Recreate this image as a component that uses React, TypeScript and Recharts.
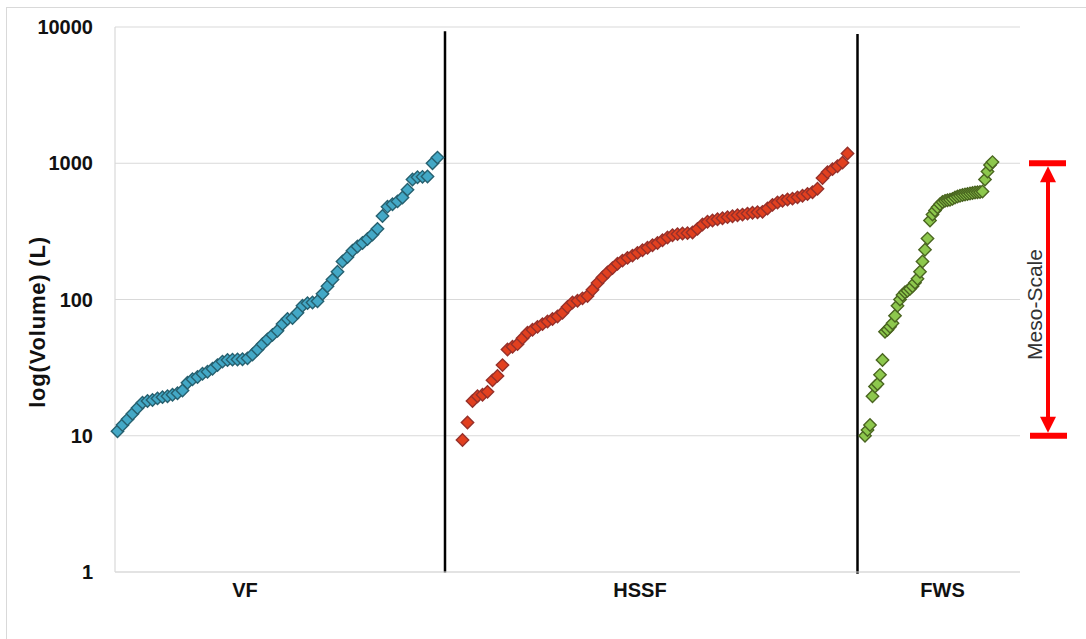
import {
  ScatterChart,
  Scatter,
  XAxis,
  YAxis,
  CartesianGrid,
  ReferenceLine,
} from "recharts";

const groups = ["VF", "HSSF", "FWS"];
const groupLabelRanks = [52, 210, 331];
const groupDividerRanks = [132, 297];
const volumeTicks = [1, 10, 100, 1000, 10000];
const mesoScale = [10, 1000];

const vfVolumes = [
  10.8, 12, 13.2, 14.5, 16, 17.5, 18, 18.3, 18.8, 19.2, 19.5, 20, 20.5, 21.5,
  24.5, 26, 27, 28.5, 29.5, 31, 33, 35, 36, 36.2, 36.3, 36.4, 37, 39.5, 43, 47,
  51, 55, 59, 66, 72, 73, 80, 90, 94, 95, 97, 110, 125, 140, 160, 190, 205, 228,
  245, 260, 278, 300, 330, 410, 480, 500, 525, 560, 640, 760, 790, 795, 800,
  1000, 1100,
];

const hssfVolumes = [
  9.3, 12.5, 18, 19.5, 20, 21, 25.5, 27.5, 33, 43, 45, 47, 52, 57, 60, 63, 66,
  69, 72, 75, 80, 88, 95, 98, 102, 106, 118, 132, 145, 158, 170, 183, 193, 202,
  210, 220, 230, 240, 250, 260, 272, 285, 296, 302, 305, 307, 310, 330, 355,
  372, 380, 388, 395, 402, 408, 415, 420, 427, 433, 437, 440, 465, 495, 515,
  530, 542, 550, 562, 578, 595, 612, 650, 780, 860, 905, 950, 1010, 1180,
];

const fwsVolumes = [
  10, 11, 12, 19.5, 23, 24, 28, 36, 58, 60, 63, 67, 76, 90, 100, 108, 113, 116,
  120, 125, 133, 142, 160, 190, 232, 280, 380, 420, 450, 475, 500, 520, 530,
  535, 540, 548, 560, 570, 578, 585, 590, 595, 600, 605, 610, 612, 615, 620,
  760, 870, 970, 1020,
];

// samples are plotted in rank order along the x axis
const toPoints = (volumes: number[], start: number, step: number) =>
  volumes.map((volume, i) => ({ rank: start + i * step, volume }));

const vfData = toPoints(vfVolumes, 1, 2);
const hssfData = toPoints(hssfVolumes, 139, 2);
const fwsData = toPoints(fwsVolumes, 300, 1);

const FONT = "'Liberation Sans', Arial, sans-serif";

function diamond(fill: string, stroke: string) {
  return (props: any) => {
    const { cx, cy } = props;
    const r = 6.2;
    return (
      <path
        d={`M${cx},${cy - r}L${cx + r},${cy}L${cx},${cy + r}L${cx - r},${cy}Z`}
        fill={fill}
        stroke={stroke}
        strokeWidth={1.4}
      />
    );
  };
}

function MesoArrow(props: any) {
  const { x1, y1, y2 } = props;
  const top = Math.min(y1, y2);
  const bottom = Math.max(y1, y2);
  const x = x1;
  const red = "#ff0000";
  return (
    <g>
      <line x1={x - 19} x2={x + 18} y1={top} y2={top} stroke={red} strokeWidth={6} />
      <line x1={x - 18} x2={x + 19} y1={bottom} y2={bottom} stroke={red} strokeWidth={6} />
      <line x1={x} x2={x} y1={top + 16} y2={bottom - 16} stroke={red} strokeWidth={4} />
      <path d={`M${x},${top + 3}L${x + 8},${top + 19}L${x - 8},${top + 19}Z`} fill={red} />
      <path d={`M${x},${bottom - 3}L${x + 8},${bottom - 19}L${x - 8},${bottom - 19}Z`} fill={red} />
      <text
        x={x - 14}
        y={(top + bottom) / 2 + 5}
        transform={`rotate(-90 ${x - 14} ${(top + bottom) / 2 + 5})`}
        textAnchor="middle"
        dominantBaseline="central"
        fontSize={21}
        fill="#333"
        fontFamily={FONT}
      >
        Meso-Scale
      </text>
    </g>
  );
}

export default function App() {
  return (
    <div
      style={{
        position: "absolute",
        left: 0,
        top: 0,
        width: 1086,
        height: 639,
        overflow: "hidden",
        background: "#fff",
      }}
    >
      <div
        style={{
          position: "absolute",
          left: 6,
          top: 7,
          width: 1100,
          height: 700,
          border: "1px solid #d9d9d9",
        }}
      />
      <svg
        width={1086}
        height={639}
        style={{ position: "absolute", left: 0, top: 0 }}
      >
        <text
          x={37}
          y={322}
          transform="rotate(-90 37 322)"
          textAnchor="middle"
          dominantBaseline="central"
          fontSize={22}
          fontWeight={700}
          letterSpacing={0.8}
          fill="#111"
          fontFamily={FONT}
        >
          log(Volume) (L)
        </text>
      </svg>
      <div style={{ position: "absolute", left: 0, top: 0 }}>
        <ScatterChart
          width={1086}
          height={639}
          margin={{ top: 27, right: 66, bottom: 0, left: 0 }}
          style={{ fontFamily: FONT }}
        >
          <CartesianGrid vertical={false} stroke="#d9d9d9" strokeWidth={1.2} />
          <XAxis
            type="number"
            dataKey="rank"
            domain={[0, 362]}
            ticks={groupLabelRanks}
            interval={0}
            tickFormatter={(v: number) => groups[groupLabelRanks.indexOf(v)]}
            axisLine={{ stroke: "#d9d9d9", strokeWidth: 1.2 }}
            tickLine={false}
            tickSize={6}
            tickMargin={5}
            height={67}
            tick={{ fill: "#111", fontSize: 20, fontWeight: 700 }}
          />
          <YAxis
            type="number"
            dataKey="volume"
            scale="log"
            domain={[1, 10000]}
            ticks={volumeTicks}
            interval={0}
            width={115}
            axisLine={{ stroke: "#d9d9d9", strokeWidth: 1.2 }}
            tickLine={false}
            tickSize={6}
            tickMargin={16}
            tick={{ fill: "#111", fontSize: 20, fontWeight: 700 }}
          />
          <ReferenceLine
            segment={[
              { x: groupDividerRanks[0], y: 9300 },
              { x: groupDividerRanks[0], y: 0.99 },
            ]}
            stroke="#000"
            strokeWidth={2.5}
            ifOverflow="visible"
          />
          <ReferenceLine
            segment={[
              { x: groupDividerRanks[1], y: 8900 },
              { x: groupDividerRanks[1], y: 0.97 },
            ]}
            stroke="#000"
            strokeWidth={2.5}
            ifOverflow="visible"
          />
          <Scatter
            name="VF"
            data={vfData}
            shape={diamond("#43a8c6", "#26606f")}
            isAnimationActive={false}
          />
          <Scatter
            name="HSSF"
            data={hssfData}
            shape={diamond("#e2401f", "#96302a")}
            isAnimationActive={false}
          />
          <Scatter
            name="FWS"
            data={fwsData}
            shape={diamond("#8dc84d", "#4a6520")}
            isAnimationActive={false}
          />
          <ReferenceLine
            segment={[
              { x: 373.2, y: mesoScale[0] },
              { x: 373.2, y: mesoScale[1] },
            ]}
            ifOverflow="visible"
            shape={(p: any) => <MesoArrow {...p} />}
          />
        </ScatterChart>
      </div>
    </div>
  );
}
